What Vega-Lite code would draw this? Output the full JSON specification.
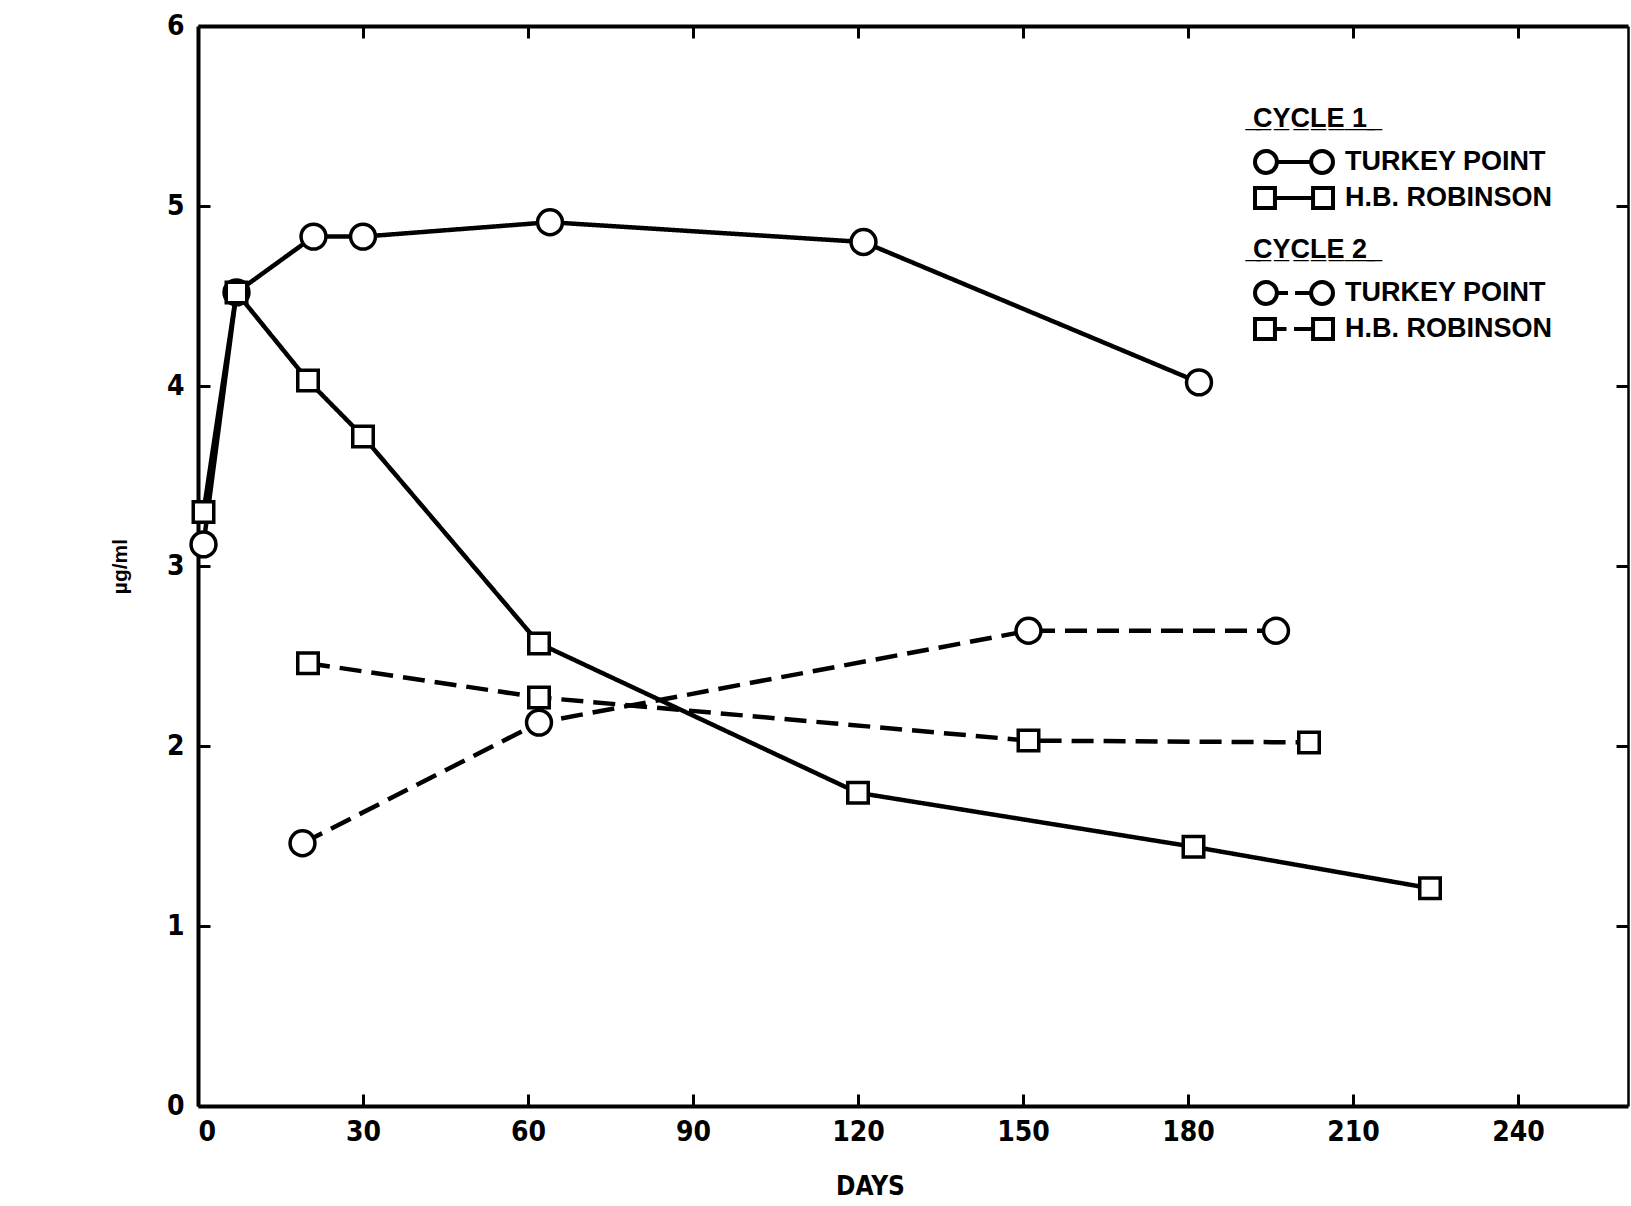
{
  "$schema": "https://vega.github.io/schema/vega-lite/v6.json",
  "width": 1430,
  "height": 1080,
  "autosize": {"type": "none"},
  "padding": {"left": 198, "top": 26, "right": 3, "bottom": 100},
  "background": "white",
  "config": {
    "view": {"stroke": null},
    "axis": {"grid": false, "domainColor": "black", "tickColor": "black", "labelColor": "black", "titleColor": "black"}
  },
  "data": {
    "values": [
      {"day": 1, "val": 3.12, "plant": "TURKEY POINT", "cycle": 1},
      {"day": 7, "val": 4.52, "plant": "TURKEY POINT", "cycle": 1},
      {"day": 21, "val": 4.83, "plant": "TURKEY POINT", "cycle": 1},
      {"day": 30, "val": 4.83, "plant": "TURKEY POINT", "cycle": 1},
      {"day": 64, "val": 4.91, "plant": "TURKEY POINT", "cycle": 1},
      {"day": 121, "val": 4.8, "plant": "TURKEY POINT", "cycle": 1},
      {"day": 182, "val": 4.02, "plant": "TURKEY POINT", "cycle": 1},
      {"day": 19, "val": 1.46, "plant": "TURKEY POINT", "cycle": 2},
      {"day": 62, "val": 2.13, "plant": "TURKEY POINT", "cycle": 2},
      {"day": 151, "val": 2.64, "plant": "TURKEY POINT", "cycle": 2},
      {"day": 196, "val": 2.64, "plant": "TURKEY POINT", "cycle": 2},
      {"day": 1, "val": 3.3, "plant": "H.B. ROBINSON", "cycle": 1},
      {"day": 7, "val": 4.52, "plant": "H.B. ROBINSON", "cycle": 1},
      {"day": 20, "val": 4.03, "plant": "H.B. ROBINSON", "cycle": 1},
      {"day": 30, "val": 3.72, "plant": "H.B. ROBINSON", "cycle": 1},
      {"day": 62, "val": 2.57, "plant": "H.B. ROBINSON", "cycle": 1},
      {"day": 120, "val": 1.74, "plant": "H.B. ROBINSON", "cycle": 1},
      {"day": 181, "val": 1.44, "plant": "H.B. ROBINSON", "cycle": 1},
      {"day": 224, "val": 1.21, "plant": "H.B. ROBINSON", "cycle": 1},
      {"day": 20, "val": 2.46, "plant": "H.B. ROBINSON", "cycle": 2},
      {"day": 62, "val": 2.27, "plant": "H.B. ROBINSON", "cycle": 2},
      {"day": 151, "val": 2.03, "plant": "H.B. ROBINSON", "cycle": 2},
      {"day": 202, "val": 2.02, "plant": "H.B. ROBINSON", "cycle": 2}
    ]
  },
  "layer": [
    {
      "mark": {"type": "line", "color": "black", "strokeWidth": 4.5, "strokeCap": "butt"},
      "encoding": {
        "x": {
          "field": "day", "type": "quantitative",
          "scale": {"domain": [0, 260], "nice": false, "zero": false},
          "axis": {
            "values": [0, 30, 60, 90, 120, 150, 180, 210, 240],
            "tickSize": -12, "tickWidth": 3, "domainWidth": 4,
            "labelFont": "Liberation Sans Narrow, DejaVu Sans Condensed, sans-serif",
            "labelFontSize": 28, "labelFontWeight": "bold", "labelPadding": 24,
            "title": "DAYS",
            "titleFont": "Liberation Sans Narrow, DejaVu Sans Condensed, sans-serif",
            "titleFontSize": 26, "titleFontWeight": "bold",
            "titleX": 672, "titleY": 67, "titleBaseline": "top"
          }
        },
        "y": {
          "field": "val", "type": "quantitative",
          "scale": {"domain": [0, 6], "nice": false},
          "axis": {
            "values": [0, 1, 2, 3, 4, 5, 6],
            "tickSize": -12, "tickWidth": 3, "domainWidth": 4,
            "labelFont": "Liberation Sans Narrow, DejaVu Sans Condensed, sans-serif",
            "labelFontSize": 28, "labelFontWeight": "bold", "labelPadding": 26,
            "title": "µg/ml",
            "titleFont": "Liberation Sans, sans-serif",
            "titleFontSize": 21, "titleFontWeight": "bold",
            "titleX": -68
          }
        },
        "detail": {"field": "plant"},
        "strokeDash": {
          "field": "cycle", "type": "nominal",
          "scale": {"domain": [1, 2], "range": [[1, 0], [22, 10]]},
          "legend": null
        },
        "order": {"field": "day"}
      }
    },
    {
      "mark": {"type": "point", "filled": true, "fill": "white", "stroke": "black", "strokeWidth": 3.5, "opacity": 1},
      "encoding": {
        "x": {"field": "day", "type": "quantitative", "axis": null},
        "y": {"field": "val", "type": "quantitative", "axis": null},
        "shape": {
          "field": "plant", "type": "nominal",
          "scale": {"domain": ["TURKEY POINT", "H.B. ROBINSON"], "range": ["circle", "square"]},
          "legend": null
        },
        "size": {
          "field": "plant", "type": "ordinal",
          "scale": {"domain": ["TURKEY POINT", "H.B. ROBINSON"], "range": [620, 420]},
          "legend": null
        }
      }
    },
    {
      "transform": [{"filter": "datum.cycle == 99"}],
      "mark": {"type": "point", "filled": false, "stroke": "black", "strokeWidth": 3.5, "opacity": 1, "size": 900},
      "encoding": {
        "x": {
          "field": "day", "type": "quantitative",
          "axis": {"orient": "top", "values": [30, 60, 90, 120, 150, 180, 210, 240], "labels": false, "tickSize": -12, "tickWidth": 3, "domainWidth": 4, "title": null}
        },
        "y": {
          "field": "val", "type": "quantitative",
          "axis": {"orient": "right", "values": [1, 2, 3, 4, 5], "labels": false, "tickSize": -12, "tickWidth": 3, "domainWidth": 2.5, "title": null}
        },
        "shape": {
          "field": "plant", "type": "nominal",
          "scale": {
            "domain": ["TURKEY POINT", "H.B. ROBINSON"],
            "range": [
              "M0.46,0A0.73,0.73 0 1,1 -1,0A0.73,0.73 0 1,1 0.46,0M0.46,0L2.74,0M4.2,0A0.73,0.73 0 1,1 2.74,0A0.73,0.73 0 1,1 4.2,0",
              "M-1,-0.67H0.33V0.67H-1ZM0.33,0L2.87,0M2.87,-0.67H4.2V0.67H2.87Z"
            ]
          },
          "legend": {
            "orient": "none", "legendX": 1055, "legendY": 80,
            "title": " \u0332C\u0332Y\u0332C\u0332L\u0332E\u0332 \u03321\u0332 \u0332",
            "titleFont": "Liberation Sans, sans-serif", "titleFontSize": 27, "titleFontWeight": "bold", "titleColor": "black", "titlePadding": 12,
            "labelFont": "Liberation Sans, sans-serif", "labelFontSize": 27, "labelFontWeight": "bold", "labelColor": "black", "labelOffset": 58, "labelLimit": 400,
            "symbolSize": 900, "symbolStrokeWidth": 4, "symbolStrokeColor": "black", "symbolFillColor": "white", "symbolOpacity": 1,
            "rowPadding": -3, "padding": 0
          }
        }
      }
    },
    {
      "transform": [{"filter": "datum.cycle == 99"}],
      "mark": {"type": "point", "filled": false, "stroke": "black", "strokeWidth": 3.5, "opacity": 1, "size": 900},
      "encoding": {
        "x": {"field": "day", "type": "quantitative", "axis": null},
        "y": {"field": "val", "type": "quantitative", "axis": null},
        "shape": {
          "field": "plant", "type": "nominal",
          "scale": {
            "domain": ["TURKEY POINT", "H.B. ROBINSON"],
            "range": [
              "M0.46,0A0.73,0.73 0 1,1 -1,0A0.73,0.73 0 1,1 0.46,0M0.46,0L1.2,0M1.67,0L2.74,0M4.2,0A0.73,0.73 0 1,1 2.74,0A0.73,0.73 0 1,1 4.2,0",
              "M-1,-0.67H0.33V0.67H-1ZM0.33,0L1.1,0M1.6,0L2.87,0M2.87,-0.67H4.2V0.67H2.87Z"
            ]
          },
          "legend": {
            "orient": "none", "legendX": 1055, "legendY": 211,
            "title": " \u0332C\u0332Y\u0332C\u0332L\u0332E\u0332 \u03322\u0332 \u0332",
            "titleFont": "Liberation Sans, sans-serif", "titleFontSize": 27, "titleFontWeight": "bold", "titleColor": "black", "titlePadding": 12,
            "labelFont": "Liberation Sans, sans-serif", "labelFontSize": 27, "labelFontWeight": "bold", "labelColor": "black", "labelOffset": 58, "labelLimit": 400,
            "symbolSize": 900, "symbolStrokeWidth": 4, "symbolStrokeColor": "black", "symbolFillColor": "white", "symbolOpacity": 1,
            "rowPadding": -3, "padding": 0
          }
        }
      }
    }
  ],
  "resolve": {
    "scale": {"shape": "independent", "size": "independent"},
    "axis": {"x": "independent", "y": "independent"},
    "legend": {"shape": "independent"}
  }
}
